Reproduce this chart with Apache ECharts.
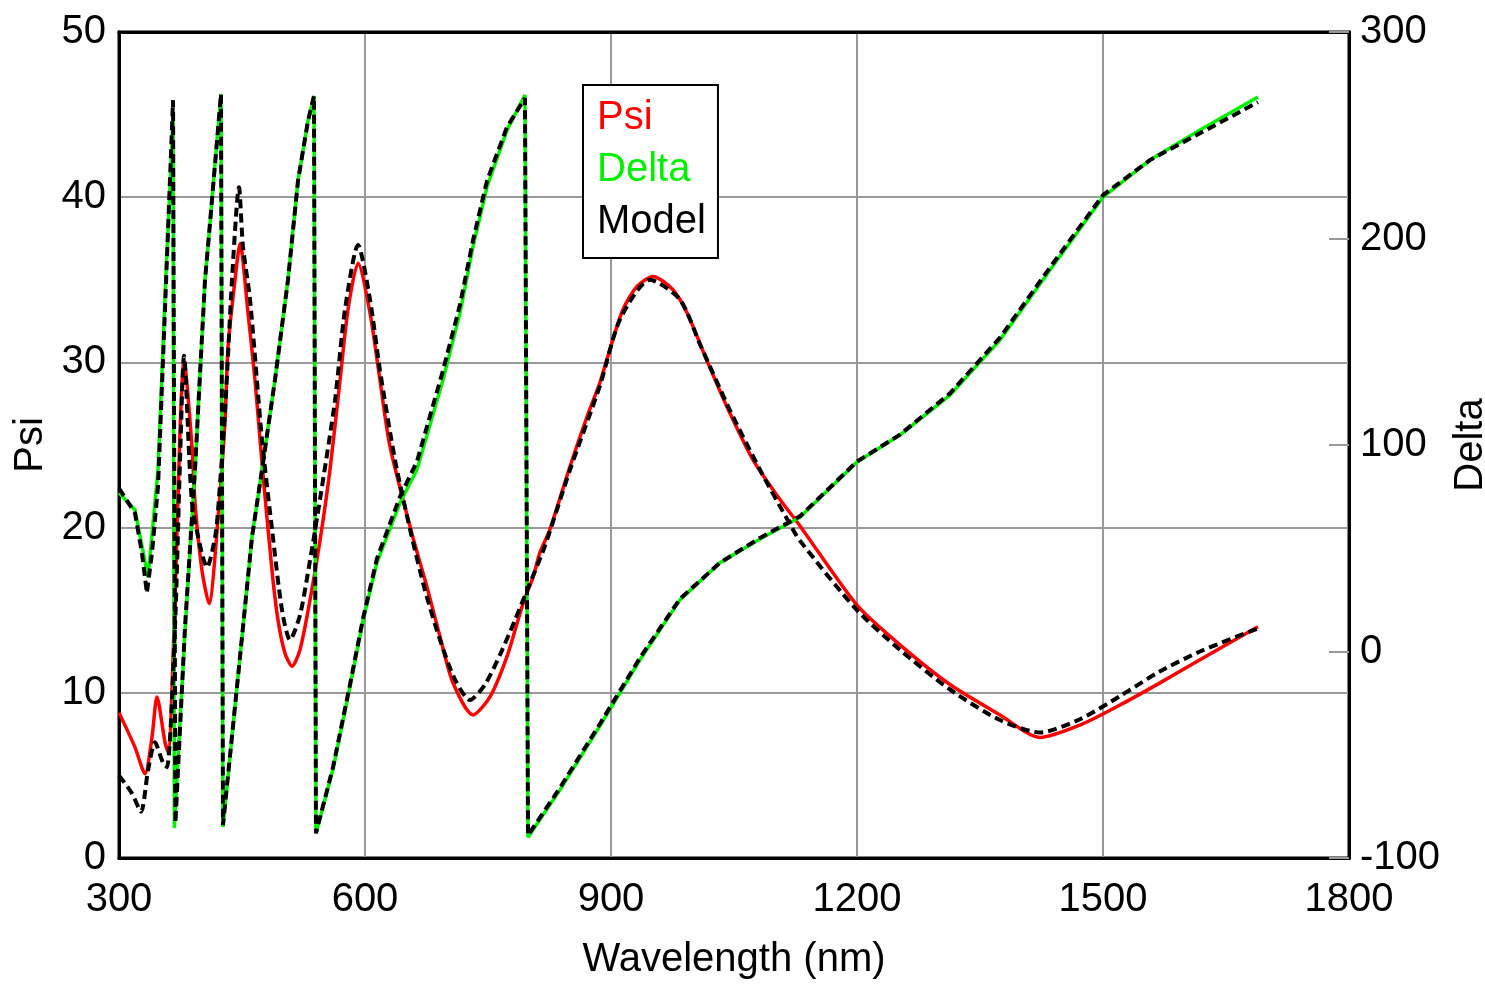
<!DOCTYPE html>
<html>
<head>
<meta charset="utf-8">
<title>Psi / Delta</title>
<script src="https://cdn.jsdelivr.net/npm/echarts@6/dist/echarts.min.js"></script>
<style>
  html, body { margin: 0; padding: 0; background: #fff; }
  #main { width: 1485px; height: 986px; }
</style>
</head>
<body>
<div id="main"></div>
<script>
// 数据：[波长 nm, 值]
var psiData = [
  [300, 8.8], [319.5, 6.7], [331.7, 5.1], [340.2, 7.3], [346.3, 9.75], [356.1, 7.0], [359.8, 6.4],
  [368.3, 15.6], [374.4, 25.9], [379.3, 30.1], [389, 24.9], [392.7, 21.5], [401.2, 17.4], [409.8, 15.4],
  [420.7, 20.5], [429.3, 26.5], [432.9, 30.9], [441.5, 35.0], [447.6, 37.2], [457.3, 33.0], [465.9, 28.9],
  [474.4, 23.9], [486.6, 17.4], [493.9, 14.4], [502.4, 12.4], [511, 11.6], [520.7, 12.6], [532.9, 15.6],
  [545.1, 19.2], [557.3, 23.5], [569.5, 28.9], [579.3, 33.2], [591.5, 36.0], [606.1, 33.0], [618.3, 28.9],
  [630.5, 24.9], [658.5, 19.4], [675.6, 16.4], [691.5, 13.4], [707.3, 10.6], [731.7, 8.66], [752.4, 9.75],
  [773.2, 12.2], [792.7, 15.4], [804.9, 17.0], [813.4, 18.5], [825.6, 19.9], [850, 23.7], [870.7, 26.7],
  [886.6, 28.8], [898.8, 30.8], [914.6, 33.2], [931.7, 34.6], [951.2, 35.2], [975.6, 34.4], [992.7, 33.0],
  [1017.1, 30.1], [1041.5, 27.3], [1073.2, 24.1], [1106.1, 21.7], [1130.5, 20.1], [1200, 15.3],
  [1252.4, 12.9], [1313.4, 10.5], [1374.4, 8.66], [1423.2, 7.3], [1472, 8.05], [1520.7, 9.26],
  [1569.5, 10.6], [1618.3, 12.0], [1689, 14.0]
];

var deltaData = [
  [300, 76.8], [319.5, 68.5], [335.4, 36], [347.6, 88], [357, 180], [365.9, 258], [367.5, -85.5],
  [380.5, 10], [392.7, 88], [396.3, 115.5], [404.9, 180], [408.5, 196], [417.1, 236], [424.4, 270],
  [426.8, -85], [437.8, -41.4], [450, 7], [462.2, 55.4], [474.4, 88], [490.2, 131.5], [506.1, 180],
  [518.3, 228], [530.5, 257], [537.8, 269], [540.2, -88], [561, -57], [581.7, -17], [597.6, 15],
  [614.6, 43], [642.7, 72], [663.4, 88], [695.1, 131.5], [715.9, 164], [731.7, 196], [748.8, 225],
  [773.2, 252.5], [795.1, 269.5], [798.8, -90], [837.8, -67], [886.6, -36], [935.4, -4], [984.1, 25],
  [1032.9, 43], [1081.7, 54.5], [1130.5, 65], [1200, 91.8], [1252.4, 104.8], [1313.4, 124.2],
  [1374.4, 150.8], [1435.4, 184.7], [1500, 220], [1557.3, 238], [1618.3, 252.5], [1689, 268.5]
];

var modelPsiData = [
  [300, 5.0], [315.9, 3.9], [326.8, 2.8], [335.4, 5.3], [343.9, 7.0], [353.7, 5.75], [358.5, 5.5],
  [368.3, 14], [374.4, 24], [379.3, 30.4], [389, 21.5], [401.2, 18.4], [407.3, 17.6], [417.1, 19.4],
  [420.7, 21], [429.3, 27], [437.8, 35], [446.3, 40.6], [451.2, 37], [459.8, 33.8], [474.4, 25.3],
  [486.6, 19.9], [498.8, 15.0], [508.5, 13.2], [520.7, 14.7], [532.9, 18.0], [545.1, 21.7], [563.4, 27.7],
  [575.6, 33.2], [591.5, 37.1], [606.1, 33.8], [618.3, 29.5], [636.6, 24.1], [654.9, 19.9], [673.2, 16.2],
  [691.5, 13.2], [709.8, 10.8], [728, 9.56], [746.3, 10.5], [764.6, 12.3], [782.9, 14.4], [797.6, 16.2],
  [819.5, 18.9], [850, 23.5], [886.6, 28.6], [911, 32.6], [947.6, 35.0], [984.1, 33.8], [1008.5, 31.1],
  [1045.1, 27.1], [1081.7, 23.5], [1118.3, 20.2], [1130.5, 19.2], [1200, 15.0], [1252.4, 12.6],
  [1313.4, 10.2], [1374.4, 8.35], [1423.2, 7.6], [1472, 8.4], [1520.7, 9.8], [1569.5, 11.3],
  [1618.3, 12.5], [1689, 13.9]
];

var modelDeltaData = [
  [300, 79], [319.5, 67], [328, 47.7], [334, 28.3], [340.2, 47.7], [347.6, 80], [357, 175], [365.9, 267],
  [368.8, -83], [380.5, 12], [392.7, 88], [396.3, 115.5], [404.9, 180], [408.5, 196], [417.1, 236],
  [424.4, 270], [426.8, -84], [437.8, -41], [450, 7], [462.2, 55.4], [474.4, 88], [490.2, 131.5],
  [506.1, 180], [518.3, 228], [530.5, 257], [537.8, 269], [540.2, -88], [561, -56], [581.7, -16],
  [597.6, 16], [614.6, 45], [642.7, 75], [663.4, 92], [695.1, 136], [715.9, 168], [731.7, 199],
  [748.8, 228], [773.2, 254], [795.1, 268], [798.8, -89], [837.8, -66], [886.6, -35], [935.4, -3],
  [984.1, 25.5], [1032.9, 43], [1081.7, 55], [1130.5, 65.5], [1200, 92], [1252.4, 105], [1313.4, 125],
  [1374.4, 152], [1435.4, 186], [1500, 221], [1557.3, 238], [1618.3, 251], [1689, 266]
];

var xTicks = [300, 1800, 300];      // min, max, interval
var psiTicks = [0, 50, 10];
var deltaTicks = [-100, 300, 100];

var FONT = '"Liberation Sans Narrow", "Arial Narrow", "Liberation Sans", Arial, sans-serif';
var GREEN = '#00f000';

var myChart = echarts.init(document.getElementById('main'));

var option = {
  backgroundColor: '#fff',
  animation: false,
  textStyle: { fontFamily: FONT },
  grid: {
    left: 119, right: 136, top: 32, bottom: 128,
    containLabel: false, outerBoundsMode: 'none',
    show: true, borderColor: '#000', borderWidth: 3, backgroundColor: 'transparent'
  },
  legend: {
    orient: 'vertical',
    left: 583, top: 85,
    padding: [13, 12, 16, 9],
    itemGap: 12,
    itemWidth: 0, itemHeight: 0,
    icon: 'none',
    backgroundColor: '#fff',
    borderColor: '#000', borderWidth: 2, borderRadius: 0,
    selectedMode: false,
    textStyle: { fontSize: 40, lineHeight: 40, fontFamily: FONT, padding: [0, 0, 0, 0] },
    data: [
      { name: 'Psi', textStyle: { color: '#ff0000' } },
      { name: 'Delta', textStyle: { color: GREEN } },
      { name: 'Model', textStyle: { color: '#000' } }
    ]
  },
  xAxis: [
    {
      type: 'value',
      min: xTicks[0], max: xTicks[1], interval: xTicks[2],
      name: 'Wavelength (nm)',
      nameLocation: 'middle', nameGap: 82,
      nameTextStyle: { fontSize: 40, color: '#000', fontFamily: FONT },
      axisLine: { onZero: false, lineStyle: { color: '#000', width: 3 } },
      axisTick: { show: false },
      axisLabel: {
        fontSize: 40, color: '#000', margin: 22, fontFamily: FONT,
        formatter: function (v) { return String(v); }
      },
      splitLine: { show: true, lineStyle: { color: '#999', width: 2 } }
    },
    {
      // 上边框：只画轴线
      type: 'value', position: 'top',
      min: xTicks[0], max: xTicks[1], interval: xTicks[2],
      axisLine: { show: true, onZero: false, lineStyle: { color: '#000', width: 3 } },
      axisTick: { show: false }, axisLabel: { show: false }, splitLine: { show: false }
    }
  ],
  yAxis: [
    {
      type: 'value',
      min: psiTicks[0], max: psiTicks[1], interval: psiTicks[2],
      name: 'Psi',
      nameLocation: 'middle', nameGap: 58, nameRotate: 90,
      nameTextStyle: { fontSize: 40, color: '#000', fontFamily: FONT },
      axisLine: { show: true, onZero: false, lineStyle: { color: '#000', width: 3 } },
      axisTick: { show: false },
      axisLabel: { fontSize: 40, color: '#000', margin: 13, fontFamily: FONT },
      splitLine: { show: true, lineStyle: { color: '#999', width: 2 } }
    },
    {
      type: 'value',
      position: 'right',
      min: deltaTicks[0], max: deltaTicks[1], interval: deltaTicks[2],
      name: 'Delta',
      nameLocation: 'middle', nameGap: 94, nameRotate: 90,
      nameTextStyle: { fontSize: 40, color: '#000', fontFamily: FONT },
      axisLine: { show: true, onZero: false, lineStyle: { color: '#000', width: 3 } },
      axisTick: { show: true, inside: true, length: 20, lineStyle: { color: '#999', width: 2 } },
      axisLabel: { fontSize: 40, color: '#000', margin: 11, fontFamily: FONT },
      splitLine: { show: false }
    }
  ],
  series: [
    {
      name: 'Psi', type: 'line', yAxisIndex: 0, data: psiData,
      showSymbol: false, smooth: 0.25, z: 2,
      lineStyle: { color: '#ff0000', width: 3.5 }, itemStyle: { color: '#ff0000' }
    },
    {
      name: 'Delta', type: 'line', yAxisIndex: 1, data: deltaData,
      showSymbol: false, smooth: false, z: 2,
      lineStyle: { color: GREEN, width: 3.5 }, itemStyle: { color: GREEN }
    },
    {
      name: 'Model', type: 'line', yAxisIndex: 0, data: modelPsiData,
      showSymbol: false, smooth: 0.25, z: 3,
      lineStyle: { color: '#000', width: 4, type: [9, 5] }, itemStyle: { color: '#000' }
    },
    {
      name: 'Model', type: 'line', yAxisIndex: 1, data: modelDeltaData,
      showSymbol: false, smooth: false, z: 3,
      lineStyle: { color: '#000', width: 4, type: [9, 5] }, itemStyle: { color: '#000' }
    }
  ]
};

myChart.setOption(option);
</script>
</body>
</html>
